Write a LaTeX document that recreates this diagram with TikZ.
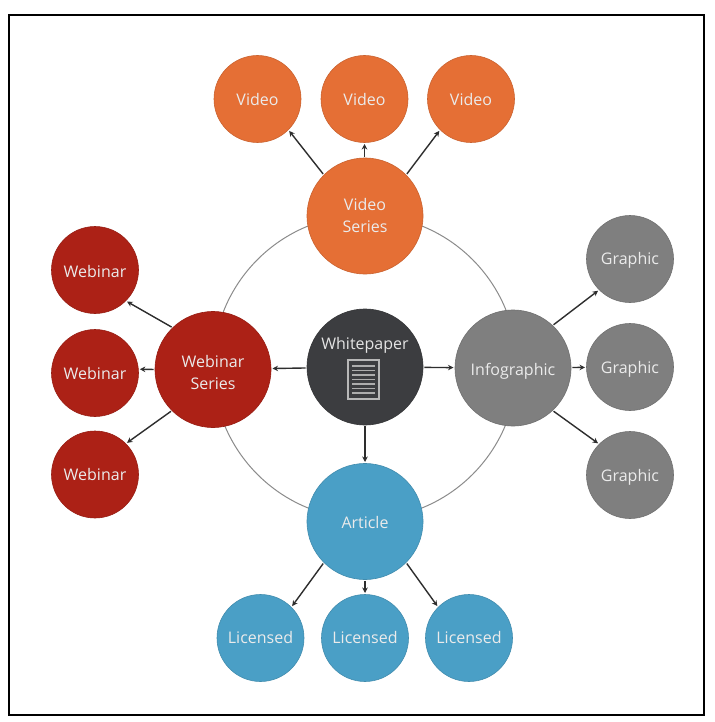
\documentclass[tikz,border=0pt]{standalone}
\usepackage{fontspec}
\setmainfont{Open Sans}
\usetikzlibrary{arrows.meta}
\definecolor{cvid}{HTML}{E56F35}
\definecolor{cweb}{HTML}{AC2116}
\definecolor{cgra}{HTML}{7F7F7F}
\definecolor{cart}{HTML}{4A9FC6}
\definecolor{cwhi}{HTML}{3C3D40}
\newcommand\dn[2]{\raisebox{-#1pt}[\height][\depth]{#2}}
\tikzset{
  bub/.style={circle,inner sep=0pt,align=center,text=white!92!black,font=\fontsize{16}{22}\selectfont,draw=#1!88!black,line width=.6pt,fill=#1},
  big/.style={bub=#1,minimum size=116pt},
  small/.style={bub=#1,minimum size=87pt},
  link/.style={draw=black!82,line width=1.4pt,-{Stealth[length=5.5pt,width=5.5pt]},shorten >=1.2pt,shorten <=1pt},
}
\begin{document}
\begin{tikzpicture}[x=1pt,y=-1pt]
\useasboundingbox (0,0) rectangle (714,722);
\fill[white] (0,0) rectangle (714,722);
\draw[line width=2.2pt] (9,15) rectangle (704,715);
\node[circle,draw=black!45,line width=1pt,minimum size=304pt,inner sep=0pt] (ring) at (365,367) {};
\node[bub=cwhi,minimum size=116pt] (w) at (365,367) {};
\node[text=white!90!black,font=\fontsize{16}{20}\selectfont,inner sep=0pt] (wlabel) at (365,345) {Whitepaper};
\node[draw=white!72!black,line width=1.3pt,minimum width=31pt,minimum height=39pt,inner sep=0pt] (doc) at (363.5,379.5) {};
\foreach \yy in {-13.5,-9,-4.5,0,4.5,9,13.5}
  \draw[white!68!black,line width=1.6pt] ([xshift=5pt,yshift=-\yy pt]doc.west) -- ([xshift=-5pt,yshift=-\yy pt]doc.east);

\node[big=cvid] (vs) at (365,216) {\dn{-1}{Video}\\\dn{-1}{Series}};
\node[big=cweb] (ws) at (213,369.5) {\dn{3}{Webinar}\\\dn{3}{Series}};
\node[big=cgra] (is) at (513,368) {\dn{3}{Infographic}};
\node[big=cart] (ar) at (365,521.5) {\dn{1}{Article}};

\node[small=cvid] (v1) at (257.5,99) {\dn{1}{Video}};
\node[small=cvid] (v2) at (364.5,99) {\dn{1}{Video}};
\node[small=cvid] (v3) at (471,99) {\dn{1}{Video}};
\node[small=cweb] (w1) at (95,270) {\dn{1}{Webinar}};
\node[small=cweb] (w2) at (95,373) {Webinar};
\node[small=cweb] (w3) at (95,474.5) {Webinar};
\node[small=cgra] (g1) at (630,259) {\dn{1}{Graphic}};
\node[small=cgra] (g2) at (630,367) {\dn{2}{Graphic}};
\node[small=cgra] (g3) at (630,475) {\dn{2}{Graphic}};
\node[small=cart] (l1) at (260.5,638) {\dn{-1}{Licensed}};
\node[small=cart] (l2) at (365,638) {\dn{-1}{Licensed}};
\node[small=cart] (l3) at (469,638) {\dn{-1}{Licensed}};

\draw[link] (w) -- (ws);
\draw[link] (w) -- (is);
\draw[link] (w) -- (ar);
\draw[link] (vs.135) -- (v1.315);
\draw[link] (vs.north -| v2) -- (v2.south);
\draw[link] (vs.45) -- (v3.225);
\draw[link] (ws.134) -- (w1.315);
\draw[link] (ws.west) -- (w2.5);
\draw[link] (ws.225) -- (w3.45);
\draw[link] (is.47) -- (g1.225);
\draw[link] (is) -- (g2);
\draw[link] (is.313) -- (g3.135);
\draw[link] (ar.225) -- (l1.45);
\draw[link] (ar.south) -- (l2.north);
\draw[link] (ar.315) -- (l3.135);
\end{tikzpicture}
\end{document}
